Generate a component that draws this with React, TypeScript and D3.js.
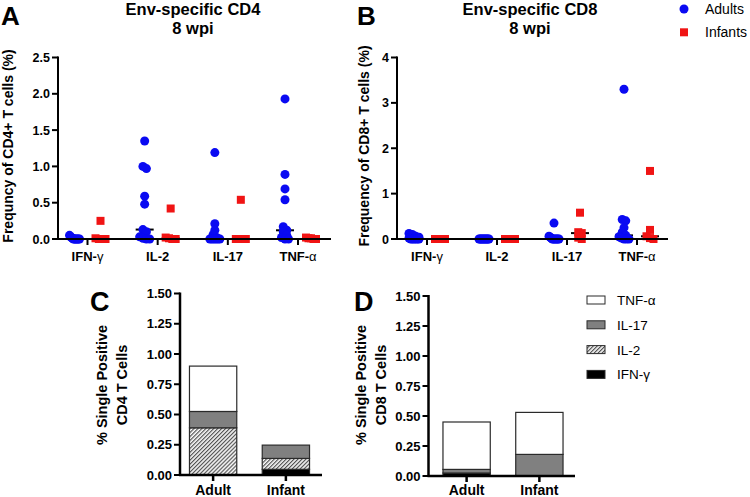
import React from "react";
import * as d3 from "d3";

// ---------- data ----------
const cytokines = ["IFN-γ", "IL-2", "IL-17", "TNF-α"];
const seriesNames = ["Adults", "Infants"];

// Panel A: Env-specific CD4 (one inner array per cytokine)
const cd4Adults = [
  [0.05, 0.03, 0.02, 0.01, 0, 0, 0, 0, 0, 0, 0],
  [1.35, 1.0, 0.97, 0.59, 0.48, 0.13, 0.1, 0.03, 0.01, 0, 0],
  [1.19, 0.21, 0.12, 0.06, 0.02, 0, 0, 0, 0, 0, 0],
  [1.93, 0.89, 0.69, 0.54, 0.17, 0.12, 0.1, 0.05, 0.02, 0, 0],
];
const cd4Infants = [
  [0.25, 0.01, 0, 0, 0],
  [0.42, 0.02, 0.01, 0, 0],
  [0.54, 0, 0, 0, 0],
  [0.02, 0.01, 0.01, 0, 0],
];
// Panel B: Env-specific CD8
const cd8Adults = [
  [0.12, 0.1, 0.06, 0.04, 0.02, 0, 0, 0, 0, 0, 0],
  [0, 0, 0, 0, 0, 0, 0, 0, 0, 0, 0],
  [0.35, 0.06, 0.04, 0.02, 0, 0, 0, 0, 0, 0, 0],
  [3.3, 0.43, 0.4, 0.25, 0.15, 0.08, 0.05, 0.02, 0, 0, 0],
];
const cd8Infants = [
  [0, 0, 0, 0, 0],
  [0, 0, 0, 0, 0],
  [0.58, 0.15, 0.13, 0.03, 0],
  [1.5, 0.2, 0.06, 0.02, 0],
];
const cd4Ticks = [0, 0.5, 1.0, 1.5, 2.0, 2.5];
const cd8Ticks = [0, 1, 2, 3, 4];

// Panels C/D: stacked single-positive bars
const barGroups = ["Adult", "Infant"];
const stackKeys = ["IFN-γ", "IL-2", "IL-17", "TNF-α"];
const cd4IFN = [0, 0.047];
const cd4IL2 = [0.39, 0.09];
const cd4IL17 = [0.135, 0.11];
const cd4TNF = [0.375, 0];
const cd8IFN = [0.025, 0];
const cd8IL2 = [0, 0];
const cd8IL17 = [0.03, 0.18];
const cd8TNF = [0.395, 0.35];
const barTicks = [0, 0.25, 0.5, 0.75, 1.0, 1.25, 1.5];
const legendOrder = ["TNF-α", "IL-17", "IL-2", "IFN-γ"];

// ---------- style ----------
const FONT = "'Liberation Sans', Arial, Helvetica, sans-serif";
const BLUE = "#0a0af2";
const RED = "#f01414";
const GRAY = "#808080";
const fills: Record<string, string> = {
  "IFN-γ": "#000000",
  "IL-2": "url(#hatch)",
  "IL-17": GRAY,
  "TNF-α": "#ffffff",
};

function swarm(values: number[], y: (v: number) => number) {
  const pts = values
    .map((v) => ({ v, py: y(v), dx: 0 }))
    .sort((a, b) => a.py - b.py);
  const clusters: { v: number; py: number; dx: number }[][] = [];
  for (const p of pts) {
    const last = clusters[clusters.length - 1];
    if (last && Math.abs(p.py - last[0].py) < 4) last.push(p);
    else clusters.push([p]);
  }
  for (const c of clusters) {
    const n = c.length;
    if (n > 1) {
      const spread = Math.min(10, (n - 1) * 3.5);
      c.forEach((p, i) => (p.dx = -spread / 2 + (spread * i) / (n - 1)));
    }
  }
  return pts;
}

function CatLabel({ label, x, y, size }: { label: string; x: number; y: number; size: number }) {
  const greek = label.slice(-1);
  const isGreek = greek === "γ" || greek === "α";
  return (
    <text x={x} y={y} textAnchor="middle" fontSize={size} fontWeight="bold" fontFamily={FONT}>
      {isGreek ? label.slice(0, -1) : label}
      {isGreek && <tspan fontWeight="normal">{greek}</tspan>}
    </text>
  );
}

function ScatterPanel(props: {
  adults: number[][];
  infants: number[][];
  domainMax: number;
  ticks: number[];
  fmt: (v: number) => string;
  axisX: number;
  axisEnd: number;
  catRange: [number, number];
}) {
  const { adults, infants, domainMax, ticks, fmt, axisX, axisEnd, catRange } = props;
  const y0 = 239;
  const y = d3.scaleLinear().domain([0, domainMax]).range([y0, 57.5]);
  const x = d3.scalePoint<string>().domain(cytokines).range(catRange);
  const off = 13;
  return (
    <g>
      {cytokines.map((c, ci) => {
        const cx = x(c)!;
        const groups = [
          { vals: adults[ci], center: cx - off, kind: "circle" },
          { vals: infants[ci], center: cx + off, kind: "square" },
        ];
        return (
          <g key={c}>
            {groups.map((g, gi) => {
              const med = d3.median(g.vals)!;
              return (
                <line
                  key={"m" + gi}
                  x1={g.center - 9}
                  x2={g.center + 9}
                  y1={y(med)}
                  y2={y(med)}
                  stroke="#000"
                  strokeWidth={2}
                />
              );
            })}
            {groups.map((g, gi) =>
              swarm(g.vals, y).map((p, i) =>
                g.kind === "circle" ? (
                  <circle key={gi + "-" + i} cx={g.center + p.dx} cy={p.py} r={4.5} fill={BLUE} />
                ) : (
                  <rect
                    key={gi + "-" + i}
                    x={g.center + p.dx - 4}
                    y={p.py - 4}
                    width={8}
                    height={8}
                    fill={RED}
                  />
                )
              )
            )}
          </g>
        );
      })}
      {/* axes */}
      <line x1={axisX} x2={axisX} y1={y(domainMax) - 1} y2={y0 + 1} stroke="#000" strokeWidth={2} />
      <line x1={axisX - 1} x2={axisEnd} y1={y0} y2={y0} stroke="#000" strokeWidth={2} />
      {ticks.map((t) => (
        <g key={t}>
          <line x1={axisX - 6} x2={axisX} y1={y(t)} y2={y(t)} stroke="#000" strokeWidth={2} />
          <text
            x={axisX - 8}
            y={y(t)}
            dy="0.36em"
            textAnchor="end"
            fontSize={12.5}
            fontWeight="bold"
            fontFamily={FONT}
          >
            {fmt(t)}
          </text>
        </g>
      ))}
      {cytokines.map((c) => (
        <g key={c}>
          <line x1={x(c)!} x2={x(c)!} y1={y0} y2={y0 + 6} stroke="#000" strokeWidth={2} />
          <CatLabel label={c} x={x(c)!} y={261} size={13} />
        </g>
      ))}
    </g>
  );
}

function BarPanel(props: {
  cols: number[][];
  axisX: number;
  axisEnd: number;
  yRange: [number, number];
  bandStart: number;
}) {
  const { cols, axisX, axisEnd, yRange, bandStart } = props;
  const rows = barGroups.map((g, gi) => {
    const r: Record<string, number | string> = { group: g };
    stackKeys.forEach((k, ki) => (r[k] = cols[ki][gi]));
    return r;
  });
  const series = d3.stack<any>().keys(stackKeys)(rows);
  const y = d3.scaleLinear().domain([0, 1.5]).range(yRange);
  const x = d3
    .scaleBand<string>()
    .domain(barGroups)
    .range([bandStart, bandStart + 171])
    .paddingInner(0.35)
    .paddingOuter(0.35);
  const y0 = yRange[0];
  return (
    <g>
      {series.map((s) =>
        s.map((d, i) => {
          const h = y(d[0]) - y(d[1]);
          if (h <= 0) return null;
          return (
            <rect
              key={s.key + i}
              x={x(barGroups[i])!}
              y={y(d[1])}
              width={x.bandwidth()}
              height={h}
              fill={fills[s.key]}
              stroke="#2a2a2a"
              strokeWidth={1.2}
            />
          );
        })
      )}
      <line x1={axisX} x2={axisX} y1={y(1.5) - 1} y2={y0 + 1} stroke="#000" strokeWidth={2.5} />
      <line x1={axisX - 1} x2={axisEnd} y1={y0} y2={y0} stroke="#000" strokeWidth={2.5} />
      {barTicks.map((t) => (
        <g key={t}>
          <line x1={axisX - 6} x2={axisX} y1={y(t)} y2={y(t)} stroke="#000" strokeWidth={2} />
          <text
            x={axisX - 8}
            y={y(t)}
            dy="0.36em"
            textAnchor="end"
            fontSize={13}
            fontWeight="bold"
            fontFamily={FONT}
          >
            {d3.format(".2f")(t)}
          </text>
        </g>
      ))}
      {barGroups.map((g) => {
        const cx = x(g)! + x.bandwidth() / 2;
        return (
          <g key={g}>
            <line x1={cx} x2={cx} y1={y0} y2={y0 + 6} stroke="#000" strokeWidth={2.5} />
            <text x={cx} y={495} textAnchor="middle" fontSize={14} fontWeight="bold" fontFamily={FONT}>
              {g}
            </text>
          </g>
        );
      })}
    </g>
  );
}

export default function App() {
  const f1 = d3.format(".1f");
  const f0 = d3.format("d");
  return (
    <svg
      width={750}
      height={497}
      viewBox="0 0 750 497"
      style={{ position: "absolute", left: 0, top: 0, background: "#fff" }}
      fontFamily={FONT}
    >
      <defs>
        <pattern
          id="hatch"
          patternUnits="userSpaceOnUse"
          width={2.8}
          height={2.8}
          patternTransform="rotate(45)"
        >
          <rect width={2.8} height={2.8} fill="#fff" />
          <line x1={0.7} x2={0.7} y1={0} y2={2.8} stroke="#111" strokeWidth={0.9} />
        </pattern>
      </defs>
      <rect width={750} height={497} fill="#fff" />

      {/* Panel letters */}
      <text x={1} y={25} fontSize={26} fontWeight="bold">A</text>
      <text x={357} y={25} fontSize={26} fontWeight="bold">B</text>
      <text x={90} y={311} fontSize={27} fontWeight="bold">C</text>
      <text x={354} y={311} fontSize={27} fontWeight="bold">D</text>

      {/* Titles */}
      <text x={193} y={15} textAnchor="middle" fontSize={16.5} fontWeight="bold">Env-specific CD4</text>
      <text x={193} y={34} textAnchor="middle" fontSize={16.5} fontWeight="bold">8 wpi</text>
      <text x={530} y={15} textAnchor="middle" fontSize={16.5} fontWeight="bold">Env-specific CD8</text>
      <text x={530} y={34} textAnchor="middle" fontSize={16.5} fontWeight="bold">8 wpi</text>

      {/* Y labels */}
      <text transform="translate(13,146) rotate(-90)" textAnchor="middle" fontSize={14} fontWeight="bold">
        Frequncy of CD4+ T cells (%)
      </text>
      <text transform="translate(369,146) rotate(-90)" textAnchor="middle" fontSize={14} fontWeight="bold">
        Frequency of CD8+ T cells (%)
      </text>
      <text transform="translate(107,385) rotate(-90)" textAnchor="middle" fontSize={14.5} fontWeight="bold">
        % Single Positive
      </text>
      <text transform="translate(126.5,385) rotate(-90)" textAnchor="middle" fontSize={14.5} fontWeight="bold">
        CD4 T Cells
      </text>
      <text transform="translate(366,385) rotate(-90)" textAnchor="middle" fontSize={14.5} fontWeight="bold">
        % Single Positive
      </text>
      <text transform="translate(385.5,385) rotate(-90)" textAnchor="middle" fontSize={14.5} fontWeight="bold">
        CD8 T Cells
      </text>

      <ScatterPanel
        adults={cd4Adults}
        infants={cd4Infants}
        domainMax={2.5}
        ticks={cd4Ticks}
        fmt={f1}
        axisX={58}
        axisEnd={331}
        catRange={[87.5, 298]}
      />
      <ScatterPanel
        adults={cd8Adults}
        infants={cd8Infants}
        domainMax={4}
        ticks={cd8Ticks}
        fmt={f0}
        axisX={397}
        axisEnd={668}
        catRange={[427, 637]}
      />

      {/* Legend A/B */}
      <circle cx={684} cy={9} r={4.5} fill={BLUE} />
      <text x={705} y={13.5} fontSize={14}>{seriesNames[0]}</text>
      <rect x={680} y={28.3} width={8} height={8} fill={RED} />
      <text x={705} y={37} fontSize={14}>{seriesNames[1]}</text>

      <BarPanel
        cols={[cd4IFN, cd4IL2, cd4IL17, cd4TNF]}
        axisX={180}
        axisEnd={322}
        yRange={[475, 293.5]}
        bandStart={164}
      />
      <BarPanel
        cols={[cd8IFN, cd8IL2, cd8IL17, cd8TNF]}
        axisX={428.5}
        axisEnd={575}
        yRange={[476, 296]}
        bandStart={417.5}
      />

      {/* Legend D */}
      {legendOrder.map((k, i) => {
        const cy = 300 + i * 24.8;
        return (
          <g key={k}>
            <rect x={587} y={cy - 4} width={18} height={8} fill={fills[k]} stroke="#2a2a2a" strokeWidth={1} />
            <text x={617} y={cy + 5} fontSize={13.5}>{k}</text>
          </g>
        );
      })}
    </svg>
  );
}
